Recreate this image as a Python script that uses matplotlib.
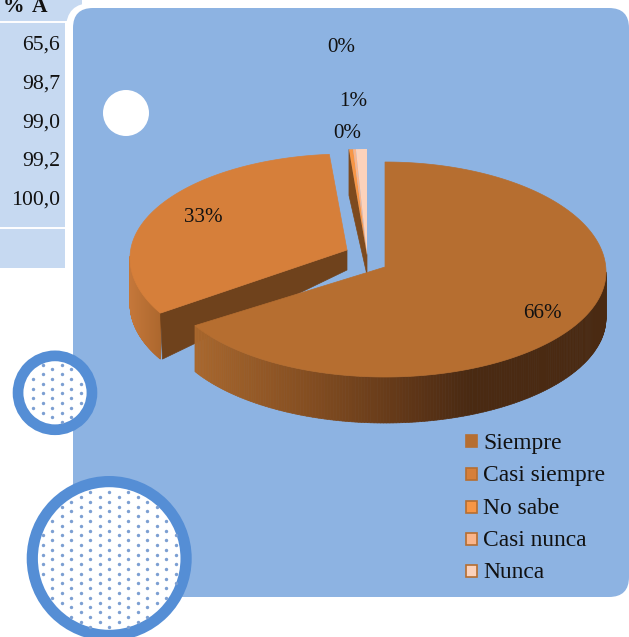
import numpy as np
import matplotlib
matplotlib.use("Agg")
import matplotlib.pyplot as plt
from matplotlib.patches import Polygon, Rectangle, Circle, FancyBboxPatch
from matplotlib.collections import PolyCollection
from matplotlib.colors import LinearSegmentedColormap

categories = ["Siempre", "Casi siempre", "No sabe", "Casi nunca", "Nunca"]
values = [65.6, 33.1, 0.3, 0.2, 0.8]
cumulative = ["65,6", "98,7", "99,0", "99,2", "100,0"]
top_colors = ["#b66e30", "#d67f3a", "#f79646", "#fbb58a", "#fcd2bb"]

W, H = 629, 637
plt.rcParams["font.family"] = ["Liberation Serif", "DejaVu Serif"]
fig = plt.figure(figsize=(W / 100, H / 100), dpi=100)
ax = fig.add_axes([0, 0, 1, 1])
ax.set_xlim(0, W)
ax.set_ylim(H, 0)
ax.axis("off")
PX = 0.72

# table fragment
ax.add_patch(Rectangle((0, 0), 65, 268, fc="#c6d9f1", ec="none", zorder=1))
ax.add_patch(Rectangle((0, 0), 82, 21, fc="#c6d9f1", ec="none", zorder=1))
for y in (21.5, 228):
    ax.plot([0, 65], [y, y], color="white", lw=1.4, zorder=2)
ax.text(3, 12, "%", fontsize=21.5 * PX, fontweight="bold", color="#111", zorder=2)
ax.text(32, 12, "A", fontsize=21.5 * PX, fontweight="bold", color="#111", zorder=2)
for v, y in zip(cumulative, [45, 84, 123, 161, 200]):
    ax.text(60, y, v, ha="right", va="center", fontsize=21.8 * PX, color="#111", zorder=2)

# panel with its white rim
ax.add_patch(FancyBboxPatch((66, 3), 600, 602, boxstyle="round,pad=0,rounding_size=26",
                            fc="white", ec="none", zorder=3))
ax.add_patch(FancyBboxPatch((73, 8), 556, 589, boxstyle="round,pad=0,rounding_size=20",
                            fc="#8db3e2", ec="none", zorder=4))
ax.add_patch(Circle((126, 113), 23, fc="white", ec="none", zorder=5))


def rim(theta, g):
    t = np.radians(theta)
    c = np.cos(t)
    # slight perspective distortion of the near half
    t = t + np.where(c < 0, np.radians(3.4) * np.sin(2 * t), 0.0)
    c = np.cos(t)
    ry = np.where(c > 0, g["far"], g["near"])
    return g["cx"] + g["rx"] * np.sin(t), g["ey"] - ry * c


def surface(a0, a1, g):
    th = np.linspace(a0, a1, max(3, int(abs(a1 - a0) * 2)))
    x, y = rim(th, g)
    return np.r_[[[g["cx"], g["cy"]]], np.c_[x, y]]


def side(a0, a1, g, cmap, xlo, xhi, z):
    th = np.linspace(a0, a1, 200)
    x, y = rim(th, g)
    d = g["depth"]
    quads = [[(x[i], y[i]), (x[i + 1], y[i + 1]), (x[i + 1], y[i + 1] + d), (x[i], y[i] + d)]
             for i in range(len(th) - 1)]
    col = cmap(np.clip((x[:-1] - xlo) / (xhi - xlo), 0, 1))
    ax.add_collection(PolyCollection(quads, facecolors=col, edgecolors=col, linewidths=0.5, zorder=z))


edges = np.r_[0, np.cumsum(values)] / sum(values) * 360
g_big = dict(cx=385, cy=267, ey=272, rx=221, far=110, near=105, depth=46)
g_or = dict(cx=347, cy=250, ey=258, rx=217, far=104, near=108, depth=46)
g_sm = dict(cx=367, cy=255, ey=255, rx=221, far=106, near=110, depth=46)

# Casi siempre
a0, a1 = edges[1], edges[2]
side(a0, 271, g_or, LinearSegmentedColormap.from_list("o", ["#c4773a", "#a9652c"]), 130, 165, 6)
xr, yr = rim(np.array(a0), g_or)
ax.add_patch(Polygon([(xr, yr), (g_or["cx"], g_or["cy"]), (g_or["cx"], g_or["cy"] + 20), (xr + 2, yr + 46)],
                     fc="#6f421c", ec="#6f421c", lw=0.5, zorder=7))
ax.add_patch(Polygon(surface(a0, a1, g_or), fc=top_colors[1], ec=top_colors[1], lw=0.5, zorder=8))

# the three small slices
xr, yr = rim(np.array(edges[2]), g_sm)
ax.add_patch(Polygon([(xr, yr), (g_sm["cx"], g_sm["cy"]), (g_sm["cx"], g_sm["cy"] + 20), (xr, yr + 46)],
                     fc="#7d4a1e", ec="#7d4a1e", lw=0.5, zorder=7))
for i in (2, 3, 4):
    ax.add_patch(Polygon(surface(edges[i], edges[i + 1], g_sm), fc=top_colors[i], ec="none", zorder=8))

# Siempre
side(90, edges[1], g_big,
     LinearSegmentedColormap.from_list("s", [(0, "#a8672d"), (0.38, "#875022"), (0.8, "#5e3517"), (1, "#4a2a12")]),
     197, 470, 9)
ax.add_patch(Polygon(surface(edges[0], edges[1], g_big), fc=top_colors[0], ec=top_colors[0], lw=0.5, zorder=10))

# percent labels
label_xy = [(542, 313), (203, 218), (341, 48), (347, 133), (353, 101)]
for v, (x, y) in zip(values, label_xy):
    ax.text(x, y, f"{v:.0f}%", ha="center", va="center", fontsize=21 * PX, color="#111", zorder=11)

# legend
for name, col, y in zip(categories, top_colors, [441, 474, 507, 539, 571]):
    ax.add_patch(Rectangle((465.5, y - 6), 11, 12, fc=col, ec="#b66e30", lw=1.2, zorder=11))
    ax.text(483, y + 2, name, va="center", fontsize=23.5 * PX, color="#111", zorder=11)

# decorative dotted circles: centre, outer radius, ring width, first dot column
for cx, cy, r, ring, x0, y0 in [(55, 392.8, 42.3, 10.7, 52.3, 369.3), (109.2, 558.5, 82.5, 11.2, 90, 501.7)]:
    ax.add_patch(Circle((cx, cy), r - ring / 2, fc="white", ec="#558ed5", lw=ring * PX, zorder=12))
    cols = np.arange(-12, 13)
    rows = np.arange(-34, 35)
    gx, gy = np.meshgrid(x0 + cols * 9.5, y0 + rows * 4.8)
    keep = ((cols + rows[:, None]) % 2 == 0)
    dots = np.c_[gx[keep], gy[keep]]
    dots = dots[np.hypot(dots[:, 0] - cx, dots[:, 1] - cy) < r - ring - 0.5]
    ax.scatter(dots[:, 0], dots[:, 1], s=6, color="#7c9fd2", linewidths=0, zorder=13)

fig.savefig("out.png", dpi=100)
